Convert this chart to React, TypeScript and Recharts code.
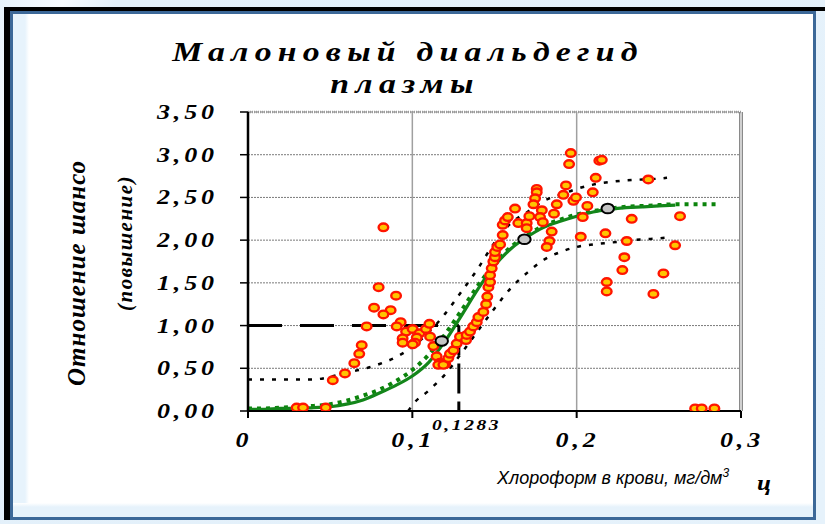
import React from "react"
import {
  ComposedChart,
  Line,
  Scatter,
  XAxis,
  YAxis,
  CartesianGrid,
  ReferenceLine,
} from "recharts"

// axis ticks
const xTicks = [0, 0.1, 0.2, 0.3]
const yTicks = [0, 0.5, 1, 1.5, 2, 2.5, 3, 3.5]

// fitted curve (solid green)
const fitX = [0, 0.01, 0.02, 0.03, 0.04, 0.05, 0.06, 0.07, 0.08, 0.09, 0.1, 0.11, 0.12, 0.13, 0.14, 0.15, 0.16, 0.17, 0.18, 0.19, 0.2, 0.21, 0.22, 0.23, 0.24, 0.25, 0.26]
const fitY = [0.02, 0.02, 0.03, 0.03, 0.04, 0.05, 0.08, 0.13, 0.21, 0.3, 0.41, 0.57, 0.82, 1.12, 1.43, 1.7, 1.9, 2.04, 2.15, 2.22, 2.28, 2.33, 2.36, 2.38, 2.39, 2.4, 2.41]

// second fit (green squares)
const fit2X = [0, 0.01, 0.02, 0.03, 0.04, 0.05, 0.06, 0.07, 0.08, 0.09, 0.1, 0.11, 0.12, 0.13, 0.14, 0.15, 0.16, 0.17, 0.18, 0.19, 0.2, 0.21, 0.22, 0.23, 0.24, 0.25, 0.26, 0.27, 0.28, 0.285]
const fit2Y = [0.03, 0.03, 0.04, 0.05, 0.06, 0.08, 0.12, 0.18, 0.25, 0.35, 0.48, 0.66, 0.9, 1.18, 1.47, 1.72, 1.92, 2.06, 2.17, 2.24, 2.3, 2.34, 2.37, 2.39, 2.4, 2.41, 2.42, 2.42, 2.42, 2.42]

// confidence bounds (black dotted)
const upperX = [0, 0.01, 0.02, 0.03, 0.04, 0.05, 0.06, 0.07, 0.08, 0.09, 0.1, 0.11, 0.12, 0.13, 0.14, 0.15, 0.16, 0.17, 0.18, 0.19, 0.2, 0.21, 0.22, 0.23, 0.24, 0.25, 0.255]
const upperY = [0.37, 0.37, 0.37, 0.37, 0.37, 0.4, 0.45, 0.49, 0.55, 0.63, 0.75, 0.92, 1.14, 1.4, 1.67, 1.97, 2.2, 2.33, 2.46, 2.53, 2.6, 2.65, 2.68, 2.7, 2.71, 2.72, 2.73]
const lowerX = [0.0975, 0.1, 0.11, 0.12, 0.13, 0.14, 0.15, 0.16, 0.17, 0.18, 0.19, 0.2, 0.21, 0.22, 0.23, 0.24, 0.25, 0.255]
const lowerY = [0, 0.07, 0.24, 0.43, 0.68, 0.94, 1.2, 1.44, 1.62, 1.77, 1.86, 1.92, 1.95, 1.97, 1.99, 2.01, 2.02, 2.03]

// observations
const obsX = [0.0296, 0.0335, 0.0473, 0.0516, 0.059, 0.0647, 0.0677, 0.0692, 0.0824, 0.0795, 0.0901, 0.0767, 0.0868, 0.0824, 0.0722, 0.0929, 0.0905, 0.0962, 0.0941, 0.0941, 0.1002, 0.1043, 0.1027, 0.1016, 0.1002, 0.1083, 0.1104, 0.1108, 0.1128, 0.1148, 0.1169, 0.12, 0.1158, 0.1189, 0.1219, 0.1229, 0.125, 0.127, 0.129, 0.1327, 0.1331, 0.1351, 0.1371, 0.1392, 0.1402, 0.1432, 0.1449, 0.1456, 0.1463, 0.1473, 0.1473, 0.1483, 0.1493, 0.1503, 0.1503, 0.1517, 0.1534, 0.155, 0.155, 0.1564, 0.1581, 0.1625, 0.1645, 0.1696, 0.1696, 0.1712, 0.1757, 0.1757, 0.1747, 0.1737, 0.1788, 0.1777, 0.1794, 0.1848, 0.1834, 0.1818, 0.1862, 0.1879, 0.1919, 0.1935, 0.1954, 0.1964, 0.198, 0.1996, 0.2037, 0.2025, 0.2065, 0.2098, 0.2116, 0.2138, 0.2153, 0.2175, 0.2305, 0.229, 0.2278, 0.2183, 0.2183, 0.2335, 0.2436, 0.2629, 0.2599, 0.2528, 0.2467, 0.2721, 0.2761, 0.2838]
const obsY = [0.04, 0.04, 0.04, 0.36, 0.44, 0.56, 0.67, 0.77, 2.15, 1.45, 1.35, 1.21, 1.18, 1.13, 0.99, 1.04, 0.99, 0.93, 0.85, 0.8, 0.96, 0.91, 0.86, 0.8, 0.78, 0.96, 1.02, 0.87, 0.76, 0.64, 0.565, 0.55, 0.54, 0.54, 0.62, 0.67, 0.71, 0.79, 0.87, 0.83, 0.89, 0.93, 0.99, 1.04, 1.1, 1.16, 1.25, 1.34, 1.45, 1.51, 1.59, 1.67, 1.75, 1.8, 1.86, 1.92, 1.95, 2.06, 2.18, 2.23, 2.27, 2.37, 2.2, 2.2, 2.14, 2.28, 2.6, 2.56, 2.49, 2.42, 2.35, 2.27, 2.21, 2.1, 1.99, 1.92, 2.31, 2.42, 2.53, 2.64, 2.89, 3.02, 2.46, 2.5, 2.27, 2.04, 2.4, 2.56, 2.73, 2.93, 2.94, 2.08, 1.99, 1.8, 1.65, 1.51, 1.4, 2.25, 2.71, 2.28, 1.94, 1.61, 1.37, 0.03, 0.03, 0.03]

// highlighted points (grey)
const keyX = [0.1179, 0.1682, 0.2189]
const keyY = [0.82, 2.01, 2.37]

const THRESHOLD = 0.1283

const zip = (xs: number[], ys: number[]) => xs.map((x, i) => ({ x, y: ys[i] }))

const fitData = zip(fitX, fitY)
const fit2Data = zip(fit2X, fit2Y)
const upperData = zip(upperX, upperY)
const lowerData = zip(lowerX, lowerY)
const obsData = zip(obsX, obsY)
const keyData = zip(keyX, keyY)

const serif = "'Liberation Serif', 'Times New Roman', serif"

// wide bold italic text, like the stretched Excel font
const Wide = ({ x, y, size, gap, sx = 1.3, anchor = "start", bold = true, children }: any) => (
  <text
    transform={`translate(${x},${y}) scale(${sx},1)`}
    textAnchor={anchor}
    fontFamily={serif}
    fontWeight={bold ? "bold" : "normal"}
    fontStyle="italic"
    fontSize={size}
    style={{ letterSpacing: gap }}
    fill="#000"
  >
    {children}
  </text>
)

const RedDot = (props: any) => (
  <ellipse cx={props.cx} cy={props.cy} rx={4.8} ry={3.8} fill="#ffc400" stroke="#ff1500" strokeWidth={2.4} />
)

const GreyDot = (props: any) => (
  <ellipse cx={props.cx} cy={props.cy} rx={6.2} ry={4.8} fill="#c4c4c4" stroke="#000" strokeWidth={2} />
)

const YTick = ({ x, y, payload }: any) => (
  <Wide x={x - 22} y={y + 7} size={20} gap={3} anchor="end">
    {payload.value.toFixed(2).replace(".", ",")}
  </Wide>
)

const XTick = ({ x, payload }: any) => (
  <Wide x={payload.value === 0 ? x - 4 : x + 1} y={447} size={20} gap={3} anchor="middle">
    {payload.value === 0 ? "0" : String(payload.value).replace(".", ",")}
  </Wide>
)

export default function App() {
  return (
    <div style={{ position: "absolute", left: 0, top: 0, width: 825, height: 524, overflow: "hidden", background: "linear-gradient(115deg, #e6f2fb 0%, #f7fbff 6%, #e3f0fa 11%, #e6f2fb 100%)" }}>
      {/* black shadow edges */}
      <div style={{ position: "absolute", left: 4, top: 7, width: 821, height: 4, background: "#000" }} />
      <div style={{ position: "absolute", left: 4, top: 7, width: 6, height: 513, background: "#000" }} />
      {/* blue frame */}
      <div style={{ position: "absolute", left: 10, top: 11, width: 800, height: 503, border: "3px solid #3c6898", background: "linear-gradient(90deg, #e7f3fc 0px, #e7f3fc 12px, #ffffff 16px)" }}>
        <div style={{ position: "absolute", left: 0, right: 0, bottom: 0, height: 14, background: "linear-gradient(180deg, #ffffff, #e6f2fb 4px)" }} />
      </div>

      <div style={{ position: "absolute", left: 0, top: 0 }}>
        <ComposedChart width={825} height={524} margin={{ top: 112, right: 84, bottom: 83, left: 148 }}>
          <CartesianGrid horizontal vertical={false} stroke="#7a7a7a" strokeDasharray="2 1" />
          <ReferenceLine x={0.1} stroke="#a0a0a0" strokeWidth={1.5} />
          <ReferenceLine x={0.2} stroke="#a0a0a0" strokeWidth={1.5} />
          <ReferenceLine x={0.3} stroke="#8a8a8a" strokeWidth={4} />
          <ReferenceLine x={0.3} stroke="#ffffff" strokeWidth={1.2} />
          <ReferenceLine y={3.5} stroke="#9a9a9a" strokeWidth={2.5} strokeDasharray="1 1" />
          <XAxis
            type="number"
            dataKey="x"
            domain={[0, 0.3]}
            ticks={xTicks}
            allowDataOverflow
            axisLine={{ stroke: "#000", strokeWidth: 2 }}
            tickLine={{ stroke: "#000", strokeWidth: 2 }}
            tickSize={7}
            height={30}
            tick={<XTick />}
          />
          <YAxis
            type="number"
            dataKey="y"
            domain={[0, 3.5]}
            ticks={yTicks}
            allowDataOverflow
            axisLine={{ stroke: "#000", strokeWidth: 2.5 }}
            tickLine={{ stroke: "#000", strokeWidth: 1.5 }}
            tickSize={8}
            tickMargin={0}
            width={100}
            tick={<YTick />}
          />
          <ReferenceLine segment={[{ x: 0, y: 1 }, { x: THRESHOLD, y: 1 }]} stroke="#000" strokeWidth={3} strokeDasharray="34 18" />
          <ReferenceLine segment={[{ x: THRESHOLD, y: 1 }, { x: THRESHOLD, y: 0 }]} stroke="#000" strokeWidth={3} strokeDasharray="30 8" />
          <Line data={upperData} dataKey="y" type="monotone" stroke="#000" strokeWidth={2.5} strokeDasharray="4 8" dot={false} isAnimationActive={false} />
          <Line data={lowerData} dataKey="y" type="monotone" stroke="#000" strokeWidth={2.5} strokeDasharray="4 8" dot={false} isAnimationActive={false} />
          <Line data={fit2Data} dataKey="y" type="monotone" stroke="#0b840b" strokeWidth={4} strokeDasharray="4 5" dot={false} isAnimationActive={false} />
          <Line data={fitData} dataKey="y" type="monotone" stroke="#13861a" strokeWidth={3.2} dot={false} isAnimationActive={false} />
          <Scatter data={obsData} dataKey="y" shape={RedDot} isAnimationActive={false} />
          <Scatter data={keyData} dataKey="y" shape={GreyDot} isAnimationActive={false} />
        </ComposedChart>
      </div>

      <svg width={825} height={524} style={{ position: "absolute", left: 0, top: 0, pointerEvents: "none" }}>
        <defs>
          <clipPath id="ylab">
            <rect x={40} y={160} width={60} height={260} />
          </clipPath>
        </defs>
        <Wide x={408} y={61} size={27} gap={5} sx={1.25} anchor="middle">
          Малоновый диальдегид
        </Wide>
        <Wide x={405} y={93} size={27} gap={5} sx={1.25} anchor="middle">
          плазмы
        </Wide>
        <g clipPath="url(#ylab)">
          <text x={85} y={386} transform="rotate(-90 85 386)" fontFamily={serif} fontWeight="bold" fontStyle="italic" fontSize={25} style={{ letterSpacing: 1 }}>
            Отношение шансов
          </text>
        </g>
        <text x={132} y={311} transform="rotate(-90 132 311)" fontFamily={serif} fontWeight="bold" fontStyle="italic" fontSize={21} style={{ letterSpacing: 1.5 }}>
          (повышение)
        </text>
        <Wide x={432} y={430} size={15} gap={2}>
          0,1283
        </Wide>
        <text x={497} y={484} fontFamily="'Liberation Sans', Arial, sans-serif" fontStyle="italic" fontSize={18}>
          Хлороформ в крови, мг/дм<tspan dy={-7} fontSize={12}>3</tspan>
        </text>
        <Wide x={757} y={490} size={22} gap={0} sx={1.15}>
          ц
        </Wide>
      </svg>
    </div>
  )
}
